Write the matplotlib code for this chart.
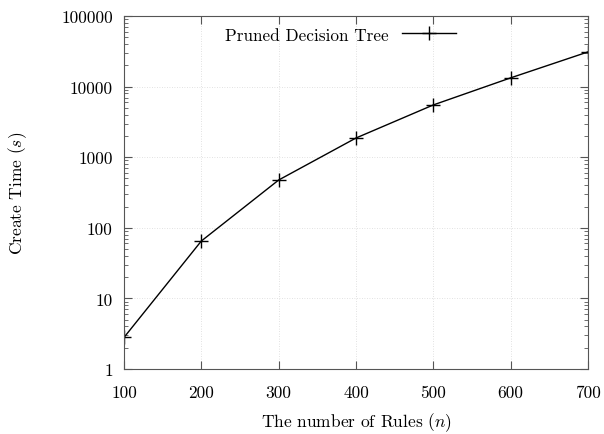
import matplotlib
matplotlib.use("Agg")
import matplotlib.pyplot as plt
from matplotlib.ticker import LogLocator, FixedLocator, NullFormatter

rules = [100, 200, 300, 400, 500, 600, 700]
create_time = [2.8, 65, 475, 1870, 5500, 13300, 31000]
series_label = "Pruned Decision Tree"
y_ticks = [1, 10, 100, 1000, 10000, 100000]
y_tick_labels = ["1", "10", "100", "1000", "10000", "100000"]

plt.rcParams['font.family'] = ['cmr10', 'DejaVu Serif']
plt.rcParams['mathtext.fontset'] = 'cm'
plt.rcParams['axes.formatter.use_mathtext'] = True

fig = plt.figure(figsize=(6.04, 4.35), dpi=100)
ax = fig.add_axes([124/604, 1 - 370/435, (588-124)/604, (370-17)/435])

ax.plot(rules, create_time, color='black', lw=1.0, marker='+', markersize=10,
        markeredgewidth=1.0, label=series_label)
ax.set_yscale('log')
ax.set_xlim(100, 700)
ax.set_ylim(1, 100000)
ax.set_xticks(rules)
ax.set_xticklabels([str(r) for r in rules])
ax.yaxis.set_major_locator(FixedLocator(y_ticks))
ax.set_yticklabels(y_tick_labels)
ax.yaxis.set_minor_locator(LogLocator(base=10, subs=range(2, 10), numticks=20))
ax.yaxis.set_minor_formatter(NullFormatter())

ax.tick_params(which='both', direction='in', top=True, right=True, labelsize=12.5, color='#555555')
ax.tick_params(axis='x', pad=11)
ax.tick_params(axis='y', pad=8)
ax.tick_params(which='major', length=6)
ax.tick_params(which='minor', length=3)
for s in ax.spines.values():
    s.set_color('#555555')
ax.grid(True, which='major', linestyle=(0, (1, 2)), color='#d8d8d8', lw=0.6)

ax.set_xlabel(r"The number of Rules ($n$)", fontsize=12.5, labelpad=8)
ax.set_ylabel(r"Create Time ($s$)", fontsize=12.5, labelpad=23)

leg = ax.legend(loc='upper center', bbox_to_anchor=(0.466, 1.0), frameon=False,
                markerfirst=False, fontsize=12.4, handlelength=3.1, handletextpad=0.8,
                borderaxespad=0.25)

fig.savefig("out.png", dpi=100)
